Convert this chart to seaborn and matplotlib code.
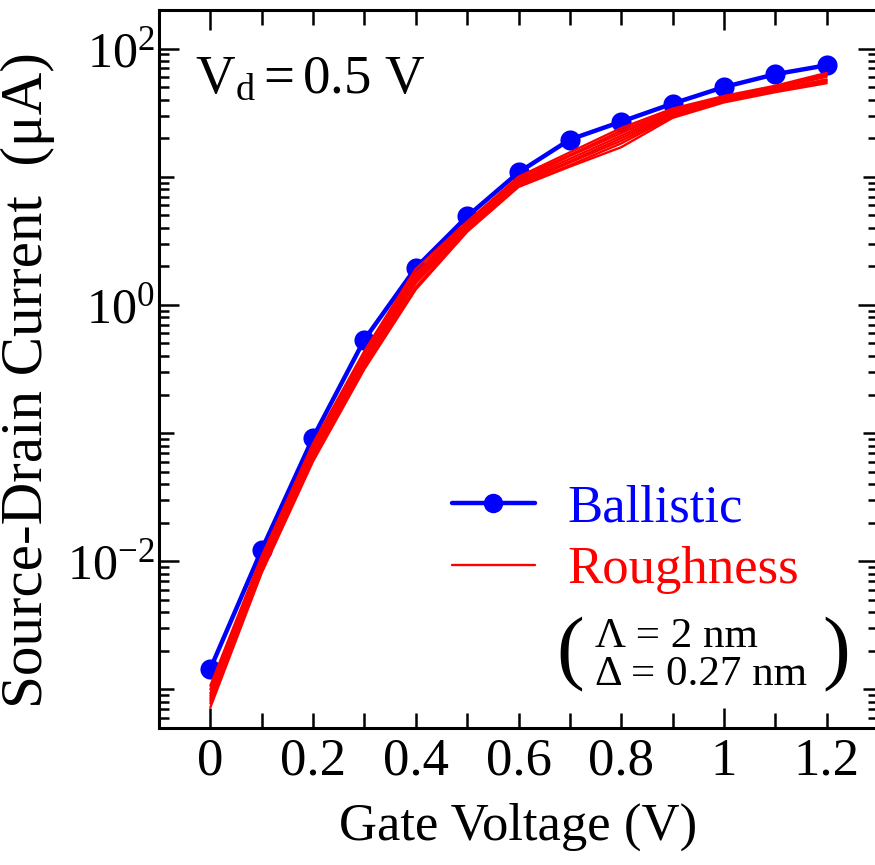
import matplotlib
matplotlib.use("Agg")
import numpy as np
import pandas as pd
import seaborn as sns
import matplotlib.pyplot as plt
from matplotlib.lines import Line2D
from matplotlib.ticker import FixedLocator, FixedFormatter

# ---------------- data ----------------
gate_voltage = [0.0, 0.1, 0.2, 0.3, 0.4, 0.5, 0.6, 0.7, 0.8, 0.9, 1.0, 1.1, 1.2]

ballistic = [1.45e-3, 0.0123, 0.0923, 0.537, 1.95, 4.90, 10.8, 19.5, 26.9, 37.2, 50.1, 63.1, 74.1]

roughness_1 = [1.07e-3, 0.0110, 0.0832, 0.437, 1.91, 4.47, 10.0, 15.5, 24.0, 34.0, 42.7, 51.3, 64.6]
roughness_2 = [1.00e-3, 0.0102, 0.0776, 0.417, 1.78, 4.37, 9.77, 14.8, 22.9, 33.1, 41.7, 50.1, 63.1]
roughness_3 = [9.33e-4, 0.00977, 0.0741, 0.389, 1.70, 4.27, 9.33, 14.5, 21.9, 32.4, 40.7, 50.1, 61.7]
roughness_4 = [8.91e-4, 0.00933, 0.0708, 0.372, 1.62, 4.07, 9.12, 13.8, 20.9, 31.6, 39.8, 49.0, 60.3]
roughness_5 = [8.51e-4, 0.00891, 0.0676, 0.355, 1.55, 3.98, 8.91, 13.2, 20.0, 30.9, 39.8, 47.9, 57.5]
roughness_6 = [8.13e-4, 0.00871, 0.0646, 0.339, 1.48, 3.89, 8.71, 12.9, 19.1, 30.2, 38.9, 46.8, 56.2]
roughness_7 = [7.76e-4, 0.00832, 0.0617, 0.324, 1.38, 3.80, 8.51, 12.3, 18.2, 29.5, 38.9, 46.8, 55.0]
roughness_8 = [7.24e-4, 0.00813, 0.0603, 0.316, 1.32, 3.72, 8.32, 12.0, 17.0, 28.8, 38.0, 45.7, 53.7]
roughness_runs = [roughness_1, roughness_2, roughness_3, roughness_4,
                  roughness_5, roughness_6, roughness_7, roughness_8]

x_tick_values = [0.0, 0.2, 0.4, 0.6, 0.8, 1.0, 1.2]
x_tick_labels = ["0", "0.2", "0.4", "0.6", "0.8", "1", "1.2"]
x_minor_values = [0.1, 0.3, 0.5, 0.7, 0.9, 1.1]
y_decades = [1e-3, 1e-2, 1e-1, 1e0, 1e1, 1e2]
y_tick_labels = ["", r"$\mathdefault{10^{-2}}$", "", r"$\mathdefault{10^{0}}$", "", r"$\mathdefault{10^{2}}$"]

legend_labels = ["Ballistic", "Roughness"]
vd_text = r"$\mathdefault{V_d = 0.5\ V}$"
param_lines = ["Λ = 2 nm", "Δ = 0.27 nm"]

# ---------------- style ----------------
sns.set_theme(style="ticks")
plt.rcParams["font.family"] = ["Liberation Serif", "DejaVu Serif"]
plt.rcParams["mathtext.fontset"] = "custom"
plt.rcParams["mathtext.rm"] = "Liberation Serif"
plt.rcParams["mathtext.it"] = "Liberation Serif:italic"
plt.rcParams["mathtext.bf"] = "Liberation Serif:bold"
for key in ["text.color", "axes.labelcolor", "xtick.color", "ytick.color",
            "xtick.labelcolor", "ytick.labelcolor", "axes.edgecolor"]:
    plt.rcParams[key] = "black"

W, H = 875, 865
fig = plt.figure(figsize=(W / 100, H / 100), dpi=100)
ax = fig.add_axes([159 / W, 1 - 728 / H, 719 / W, 718 / H])
ax.set_yscale("log")

df_ball = pd.DataFrame({"V": gate_voltage, "I": ballistic})
sns.lineplot(data=df_ball, x="V", y="I", color="#0000ff", lw=3.2, marker="o",
             markersize=14.5, markeredgewidth=0, ax=ax, zorder=2)

rows = []
for k, run in enumerate(roughness_runs):
    for v, i in zip(gate_voltage, run):
        rows.append({"V": v, "I": i, "run": k})
df_rough = pd.DataFrame(rows)
sns.lineplot(data=df_rough, x="V", y="I", units="run", estimator=None,
             color="#ff0000", lw=1.7, ax=ax, zorder=3, legend=False)

ax.set_xlim(-0.1, 1.3)
ax.set_ylim(5e-4, 200)

# ticks
ax.xaxis.set_major_locator(FixedLocator(x_tick_values))
ax.xaxis.set_major_formatter(FixedFormatter(x_tick_labels))
ax.xaxis.set_minor_locator(FixedLocator(x_minor_values))
ax.yaxis.set_major_locator(FixedLocator(y_decades))
ax.yaxis.set_major_formatter(FixedFormatter(y_tick_labels))
ax.yaxis.set_minor_locator(matplotlib.ticker.LogLocator(base=10, subs=np.arange(2, 10), numticks=50))
ax.yaxis.set_minor_formatter(matplotlib.ticker.NullFormatter())

ax.tick_params(axis="both", which="both", direction="in", top=True, right=True,
               width=1.8, color="black", labelcolor="black")
ax.tick_params(axis="x", which="major", length=10.8, pad=7, labelsize=38)
ax.tick_params(axis="x", which="minor", length=10.8)
ax.tick_params(axis="y", which="major", length=10.8, pad=3, labelsize=36)
ax.tick_params(axis="y", which="minor", length=7.2)

for t, v in zip(ax.xaxis.get_major_ticks(), x_tick_values):
    if v in (0.0, 1.0):
        t.tick1line.set_markersize(14.4)
        t.tick2line.set_markersize(14.4)
for t, lab in zip(ax.yaxis.get_major_ticks(), y_tick_labels):
    if lab:
        t.tick1line.set_markersize(14.4)
        t.tick2line.set_markersize(14.4)

for s in ax.spines.values():
    s.set_linewidth(2.2)
    s.set_color("black")

ax.set_xlabel("Gate Voltage (V)", fontsize=38, color="black")
ax.set_ylabel("Source-Drain Current  (μA)", fontsize=42.5, color="black")
ax.xaxis.set_label_coords(0.5, -0.104)
ax.yaxis.set_label_coords(-0.145, 0.485)

# legend
handles = [Line2D([], [], color="#0000ff", lw=3.2, marker="o", markersize=14, markeredgewidth=0),
           Line2D([], [], color="#ff0000", lw=1.7)]
ax.legend(handles, legend_labels, loc="upper left", bbox_to_anchor=(452 / W, 1 - 484 / H),
          bbox_transform=fig.transFigure, frameon=False, fontsize=38, labelcolor="linecolor",
          handlelength=1.57, handletextpad=0.61, borderpad=0, borderaxespad=0, labelspacing=0.27)

# annotations
fig.text(195 / W, 1 - 92 / H, vd_text, fontsize=39.5, ha="left", va="baseline", color="black")
fig.text(570 / W, 1 - 655 / H, "(", fontsize=60, ha="center", va="center", color="black")
fig.text(836 / W, 1 - 655 / H, ")", fontsize=60, ha="center", va="center", color="black")
fig.text(595 / W, 1 - 637 / H, param_lines[0], fontsize=31, ha="left", va="center", color="black")
fig.text(595 / W, 1 - 675 / H, param_lines[1], fontsize=31, ha="left", va="center", color="black")

fig.savefig("out.png", dpi=100)
